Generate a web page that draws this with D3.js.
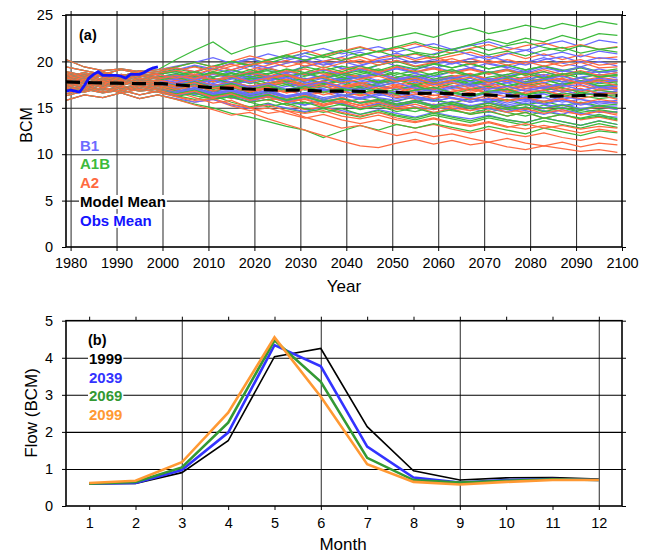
<!DOCTYPE html>
<html>
<head>
<meta charset="utf-8">
<script src="https://cdn.jsdelivr.net/npm/d3@7"></script>
<style>
  body { margin: 0; background: #fff; }
  text { font-family: Arial, "Liberation Sans", Helvetica, sans-serif; }
</style>
</head>
<body>
<svg id="chart" width="651" height="554"></svg>
<script>
// ---------- Panel (a): annual flow, ensemble members per scenario ----------
const histYears = [1979, 1983, 1987, 1991, 1995, 1999];
const futureYears = [2003, 2007, 2011, 2015, 2019, 2023, 2027, 2031, 2035, 2039, 2043, 2047, 2051,
                     2055, 2059, 2063, 2067, 2071, 2075, 2079, 2083, 2087, 2091, 2095, 2099];

// 20th-century runs, one per model (shared by all three scenarios)
const historical = [
  [17.9, 18.3, 17.6, 18.1, 17.8, 18.4],
  [17.2, 16.8, 17.5, 17.1, 17.6, 17.3],
  [18.6, 18.2, 18.8, 18.4, 19.0, 18.6],
  [16.5, 17.0, 16.6, 16.9, 16.4, 16.8],
  [18.0, 17.6, 18.2, 17.7, 18.1, 17.9],
  [17.5, 17.9, 17.3, 17.8, 17.4, 17.7],
  [20.2, 19.4, 19.0, 19.2, 18.9, 19.1],
  [15.8, 16.4, 16.1, 16.6, 16.0, 16.4],
  [17.7, 18.1, 17.9, 17.4, 17.9, 17.6],
  [18.3, 17.9, 18.5, 18.0, 18.4, 18.2],
  [17.0, 17.4, 16.9, 17.3, 17.1, 17.5],
  [18.8, 18.4, 18.1, 18.6, 18.3, 18.7],
  [16.8, 17.2, 17.6, 17.0, 17.4, 17.1],
  [17.4, 17.0, 17.7, 17.2, 16.9, 17.3],
  [18.2, 18.6, 18.0, 18.5, 18.1, 18.4],
  [17.6, 17.2, 17.8, 17.5, 17.9, 17.4],
  [18.5, 18.0, 18.6, 18.2, 18.7, 18.3],
  [16.9, 17.3, 16.7, 17.2, 16.8, 17.0],
  [17.8, 17.4, 18.0, 17.6, 18.2, 17.8],
  [19.4, 19.0, 18.6, 19.1, 18.7, 18.9],
  [16.3, 16.8, 17.1, 16.6, 17.0, 16.7],
  [18.1, 18.5, 17.8, 18.3, 17.7, 18.0],
  [17.3, 17.7, 17.2, 17.9, 17.5, 17.8],
  [18.9, 18.5, 18.9, 18.3, 18.6, 18.1],
  [17.1, 16.7, 17.2, 16.8, 17.3, 16.9],
  [18.4, 18.8, 18.3, 17.9, 18.5, 18.6]
];

const futureB1 = [
  [18.1, 18.6, 18.0, 17.7, 18.3, 17.9, 18.5, 17.8, 17.4, 18.0, 18.4, 17.6, 17.9, 18.3, 17.5, 17.8, 18.2, 17.4, 17.7, 18.1, 17.3, 17.6, 17.9, 17.2, 17.5],
  [17.0, 17.5, 16.8, 17.2, 16.6, 17.1, 16.9, 16.4, 16.9, 17.2, 16.5, 16.8, 16.3, 16.7, 17.0, 16.4, 16.1, 16.6, 16.9, 16.2, 16.5, 15.9, 16.3, 16.6, 16.0],
  [18.9, 18.4, 19.2, 18.8, 19.5, 19.0, 18.7, 19.4, 19.9, 19.3, 18.9, 19.6, 20.1, 19.5, 19.2, 19.8, 20.3, 19.7, 19.3, 19.9, 20.4, 19.8, 19.4, 20.0, 19.5],
  [16.4, 16.7, 16.0, 16.3, 15.8, 16.2, 15.6, 15.3, 15.9, 15.5, 15.0, 15.4, 15.7, 15.1, 14.8, 15.3, 14.9, 14.5, 15.0, 14.7, 14.3, 14.8, 14.4, 14.1, 14.0],
  [17.6, 18.1, 17.4, 17.8, 17.3, 17.7, 18.0, 17.5, 17.1, 17.6, 17.9, 17.3, 17.0, 17.5, 17.8, 17.2, 16.9, 17.4, 17.7, 17.1, 16.8, 17.3, 17.5, 16.9, 17.0],
  [17.4, 17.0, 17.5, 17.2, 16.8, 17.3, 16.9, 17.4, 17.0, 16.6, 17.1, 16.8, 16.4, 16.9, 17.2, 16.7, 16.3, 16.8, 16.5, 16.1, 16.6, 16.9, 16.4, 16.7, 16.5],
  [19.5, 19.9, 20.4, 19.8, 20.2, 20.8, 20.3, 20.9, 21.4, 20.8, 21.2, 21.6, 21.0, 21.5, 21.9, 21.3, 21.7, 22.1, 21.5, 21.2, 21.8, 22.2, 21.6, 22.3, 22.0],
  [16.0, 15.6, 15.9, 15.3, 14.9, 15.4, 15.0, 14.6, 15.1, 14.7, 14.3, 14.8, 14.4, 14.0, 14.5, 14.1, 13.8, 14.2, 13.7, 13.4, 13.9, 13.5, 13.1, 13.6, 13.2],
  [17.9, 17.5, 18.1, 17.8, 18.4, 17.9, 18.3, 18.7, 18.1, 17.8, 18.4, 18.8, 18.2, 17.9, 18.5, 18.1, 18.6, 18.0, 18.4, 18.8, 18.1, 17.8, 18.3, 18.6, 18.2],
  [18.5, 18.9, 18.3, 19.0, 18.6, 19.3, 18.8, 19.5, 19.9, 19.2, 19.6, 20.1, 19.5, 19.1, 19.7, 20.0, 19.3, 19.8, 19.4, 18.9, 19.5, 19.1, 18.7, 19.2, 18.8],
  [17.1, 17.4, 16.8, 17.0, 16.5, 16.9, 16.3, 16.6, 16.1, 16.4, 15.9, 16.3, 16.6, 16.0, 15.7, 16.1, 15.6, 15.9, 15.3, 15.7, 15.4, 15.0, 15.5, 15.1, 15.2],
  [19.1, 19.6, 19.2, 19.8, 20.3, 19.7, 20.1, 20.6, 20.0, 20.5, 21.0, 20.4, 20.9, 20.3, 20.8, 21.3, 20.7, 20.2, 20.8, 21.2, 20.6, 21.0, 20.5, 21.1, 20.8],
  [16.8, 17.2, 16.6, 16.9, 16.4, 16.8, 16.2, 16.6, 17.0, 16.4, 16.1, 16.5, 16.0, 16.4, 16.7, 16.1, 15.8, 16.3, 16.6, 16.0, 15.7, 16.2, 15.9, 15.6, 15.8],
  [16.9, 16.4, 16.8, 16.1, 15.7, 16.2, 15.8, 15.3, 15.8, 15.4, 15.0, 15.5, 15.1, 15.6, 15.2, 14.8, 15.3, 14.9, 14.6, 15.1, 14.7, 14.3, 14.9, 14.5, 14.6],
  [18.1, 18.5, 17.9, 18.3, 17.7, 18.2, 18.6, 18.0, 17.6, 18.1, 18.5, 17.9, 18.3, 17.7, 18.1, 18.4, 17.8, 17.5, 18.0, 18.3, 17.7, 18.1, 17.6, 18.0, 17.8],
  [17.7, 17.2, 17.6, 17.0, 17.4, 16.9, 17.3, 17.6, 17.0, 16.7, 17.2, 17.5, 16.9, 17.3, 16.8, 17.1, 17.4, 16.8, 16.5, 17.0, 17.3, 16.7, 17.0, 16.6, 16.8],
  [18.6, 18.2, 18.8, 18.4, 18.9, 18.5, 18.1, 18.7, 19.1, 18.6, 18.2, 18.8, 19.2, 18.7, 18.3, 18.9, 19.3, 18.8, 18.4, 18.9, 18.5, 19.0, 18.6, 18.9, 18.6],
  [16.7, 17.1, 16.5, 16.9, 16.4, 16.8, 16.2, 16.6, 16.9, 16.3, 16.0, 16.5, 16.8, 16.2, 15.9, 16.4, 16.0, 15.7, 16.2, 15.8, 16.1, 15.6, 15.9, 15.4, 15.6],
  [18.1, 17.6, 18.0, 17.5, 17.9, 18.3, 17.7, 17.4, 17.9, 18.2, 17.6, 17.3, 17.8, 18.1, 17.5, 17.9, 17.4, 17.8, 18.0, 17.4, 17.1, 17.6, 17.9, 17.2, 17.3],
  [19.3, 18.9, 19.5, 19.1, 19.7, 19.3, 19.8, 20.2, 19.6, 20.0, 19.5, 20.1, 20.4, 19.8, 20.2, 19.7, 20.3, 20.6, 20.0, 19.6, 20.2, 20.5, 19.9, 20.4, 20.2],
  [16.3, 16.7, 16.1, 16.5, 15.9, 16.3, 15.7, 16.1, 15.6, 16.0, 15.5, 15.9, 15.4, 15.8, 15.3, 15.7, 15.2, 15.6, 15.1, 15.5, 15.0, 15.4, 14.9, 15.2, 14.8],
  [17.7, 18.2, 17.6, 18.1, 18.5, 17.9, 18.3, 17.7, 18.2, 18.6, 18.0, 17.6, 18.1, 18.5, 17.9, 18.3, 17.8, 18.2, 17.7, 18.1, 18.4, 17.8, 18.2, 17.7, 18.0],
  [17.5, 17.9, 17.3, 17.7, 17.2, 17.6, 17.0, 17.4, 17.8, 17.2, 16.9, 17.4, 17.7, 17.1, 16.8, 17.3, 17.6, 17.0, 17.3, 16.8, 17.2, 17.5, 16.9, 17.2, 16.9],
  [18.4, 18.0, 18.6, 18.2, 18.8, 18.3, 18.9, 18.5, 19.1, 18.6, 19.2, 18.7, 19.3, 18.8, 19.4, 18.9, 19.3, 18.8, 19.2, 18.7, 19.3, 18.9, 19.4, 18.8, 19.0],
  [16.6, 17.0, 16.4, 16.8, 16.2, 16.6, 16.1, 16.5, 15.9, 16.3, 16.7, 16.1, 15.8, 16.2, 15.7, 16.1, 15.6, 16.0, 15.5, 15.9, 15.4, 15.8, 15.3, 15.7, 15.5],
  [18.2, 18.6, 18.0, 18.4, 17.9, 18.3, 18.7, 18.1, 18.5, 17.9, 18.3, 18.6, 18.0, 18.4, 17.8, 18.2, 18.5, 17.9, 18.3, 17.7, 18.1, 18.4, 17.8, 18.2, 17.9]
];

const futureA1B = [
  [18.0, 18.4, 17.8, 18.2, 17.6, 18.0, 17.5, 17.9, 18.3, 17.6, 17.2, 17.7, 18.1, 17.5, 17.1, 17.6, 17.9, 17.3, 16.9, 17.4, 17.7, 17.1, 16.8, 17.3, 17.0],
  [16.9, 16.5, 16.9, 16.3, 16.7, 16.1, 15.8, 16.3, 15.9, 15.5, 16.0, 15.6, 15.2, 15.7, 16.0, 15.4, 15.1, 15.6, 15.2, 14.8, 15.3, 15.0, 14.7, 15.2, 15.0],
  [19.0, 19.5, 19.1, 19.8, 20.3, 19.8, 20.4, 20.9, 20.4, 21.0, 21.5, 21.0, 21.6, 22.1, 21.5, 21.2, 21.8, 22.4, 21.9, 22.5, 22.1, 22.8, 22.3, 23.0, 22.8],
  [16.3, 15.9, 16.3, 15.6, 15.1, 15.5, 14.9, 14.5, 14.9, 14.4, 14.0, 14.5, 14.1, 13.7, 14.2, 13.8, 13.4, 13.9, 13.5, 13.1, 13.6, 13.2, 12.8, 13.3, 12.9],
  [18.2, 17.7, 18.3, 18.7, 18.1, 18.5, 17.9, 18.4, 18.8, 18.2, 18.6, 19.0, 18.4, 18.1, 18.7, 19.1, 18.5, 18.0, 18.6, 19.0, 18.3, 18.7, 18.2, 18.6, 18.4],
  [17.3, 17.7, 17.0, 17.4, 16.9, 17.3, 16.7, 17.1, 16.6, 17.0, 17.4, 16.8, 16.4, 16.9, 17.2, 16.6, 16.2, 16.7, 17.0, 16.4, 16.1, 16.6, 16.3, 16.0, 16.2],
  [20.2, 21.2, 22.1, 20.8, 21.5, 21.9, 22.2, 21.6, 22.0, 22.4, 22.8, 22.3, 22.7, 23.1, 22.6, 23.2, 23.6, 23.0, 23.4, 23.9, 23.5, 24.1, 23.7, 24.3, 24.0],
  [15.9, 15.4, 15.0, 14.4, 14.0, 13.5, 13.0, 12.6, 11.8, 12.5, 13.1, 12.6, 13.2, 12.8, 13.3, 12.9, 12.5, 13.0, 12.6, 12.2, 12.8, 12.4, 12.0, 12.5, 12.3],
  [17.2, 17.6, 17.0, 17.5, 17.9, 17.3, 17.7, 17.1, 17.5, 17.9, 17.2, 17.6, 18.0, 17.4, 17.8, 17.2, 17.6, 18.0, 17.3, 17.7, 17.1, 17.5, 17.9, 17.3, 17.6],
  [18.5, 18.1, 18.7, 19.1, 18.6, 19.2, 18.8, 19.4, 19.0, 19.5, 19.1, 19.6, 20.0, 19.4, 19.8, 19.3, 19.7, 19.2, 19.6, 19.1, 19.5, 18.9, 19.3, 18.8, 19.0],
  [17.0, 16.6, 16.9, 16.3, 16.0, 16.4, 15.8, 15.4, 15.8, 15.3, 15.0, 15.4, 14.9, 14.6, 15.1, 14.7, 14.4, 14.9, 14.5, 14.1, 14.6, 14.2, 13.9, 14.3, 13.8],
  [19.2, 18.8, 19.5, 20.0, 19.5, 20.1, 20.6, 20.1, 20.7, 21.2, 20.6, 21.1, 21.6, 21.0, 20.7, 21.3, 21.8, 21.2, 21.7, 22.1, 21.5, 21.1, 21.7, 21.3, 21.5],
  [16.7, 17.1, 16.5, 16.8, 16.3, 16.7, 16.1, 16.5, 15.9, 16.3, 16.6, 16.0, 15.7, 16.2, 15.8, 15.5, 16.0, 15.6, 15.9, 15.3, 15.7, 15.2, 15.6, 15.2, 15.4],
  [16.8, 16.3, 15.9, 16.2, 15.6, 15.1, 15.5, 14.9, 14.5, 14.9, 14.3, 14.7, 14.2, 13.9, 14.4, 14.0, 13.6, 14.1, 13.7, 13.4, 13.9, 13.5, 13.1, 13.6, 13.2],
  [18.0, 18.4, 17.8, 18.3, 18.7, 18.1, 18.5, 17.9, 18.4, 18.8, 18.2, 17.8, 18.3, 18.7, 18.1, 18.5, 17.9, 18.3, 18.6, 18.0, 18.4, 17.8, 18.2, 17.9, 18.0],
  [17.0, 17.4, 16.8, 17.2, 16.7, 17.1, 17.5, 16.9, 17.3, 16.8, 17.2, 16.6, 17.0, 17.4, 16.8, 16.5, 17.0, 17.3, 16.7, 16.4, 16.9, 17.2, 16.6, 16.9, 16.6],
  [18.7, 18.3, 18.9, 18.5, 19.1, 18.6, 19.2, 18.8, 19.4, 18.9, 19.5, 19.0, 19.6, 19.2, 19.7, 19.3, 19.8, 19.2, 19.6, 19.1, 19.5, 19.0, 19.4, 18.9, 19.2],
  [16.6, 16.9, 16.3, 16.6, 16.1, 16.4, 15.9, 16.2, 15.7, 16.0, 15.5, 15.8, 15.3, 15.6, 15.1, 15.4, 14.9, 15.3, 14.8, 15.1, 14.6, 15.0, 14.5, 14.8, 14.5],
  [17.4, 17.9, 17.3, 17.8, 18.2, 17.6, 18.0, 17.5, 17.9, 18.3, 17.7, 17.3, 17.8, 18.2, 17.6, 18.0, 17.5, 17.9, 18.2, 17.6, 18.0, 17.5, 17.9, 17.6, 17.8],
  [19.4, 19.9, 19.4, 20.0, 19.6, 20.2, 20.7, 20.1, 20.6, 20.1, 20.7, 21.1, 20.5, 20.9, 20.4, 20.9, 21.3, 20.7, 21.1, 20.6, 21.2, 21.5, 20.9, 21.3, 21.0],
  [16.2, 16.6, 15.9, 16.2, 15.6, 15.9, 15.3, 15.6, 15.0, 15.4, 14.8, 15.2, 14.6, 15.0, 14.4, 14.8, 14.3, 14.6, 14.1, 14.5, 13.9, 14.3, 13.8, 14.1, 13.7],
  [18.3, 17.8, 18.2, 17.6, 18.1, 18.4, 17.8, 18.2, 17.6, 18.0, 18.3, 17.7, 18.1, 17.5, 17.9, 18.2, 17.6, 18.0, 17.4, 17.8, 18.1, 17.5, 17.9, 17.4, 17.5],
  [17.4, 17.8, 17.2, 17.6, 17.0, 17.4, 16.9, 17.3, 16.7, 17.1, 16.6, 17.0, 16.5, 16.9, 17.2, 16.6, 16.3, 16.8, 17.0, 16.4, 16.7, 16.2, 16.6, 16.3, 16.4],
  [18.5, 18.9, 18.3, 18.8, 18.3, 18.7, 19.1, 18.5, 18.9, 18.4, 18.8, 19.2, 18.6, 19.0, 18.5, 18.9, 18.4, 18.8, 19.1, 18.5, 18.9, 18.3, 18.7, 18.4, 18.6],
  [16.5, 16.9, 16.3, 16.6, 16.0, 16.4, 15.8, 16.2, 15.6, 16.0, 15.5, 15.9, 15.4, 15.8, 15.2, 15.6, 15.1, 15.5, 15.0, 15.4, 14.9, 15.3, 14.8, 15.2, 14.9],
  [18.9, 18.4, 18.8, 18.3, 18.7, 19.0, 18.4, 18.8, 18.2, 18.6, 19.0, 18.4, 18.8, 18.3, 18.7, 19.1, 18.5, 18.9, 18.3, 18.7, 18.2, 18.6, 18.9, 18.3, 18.5]
];

const futureA2 = [
  [18.0, 17.6, 18.1, 17.5, 17.9, 17.3, 17.7, 17.2, 17.6, 17.0, 17.4, 16.9, 17.3, 16.8, 17.2, 16.7, 17.1, 16.6, 17.0, 16.5, 16.9, 16.4, 16.8, 16.3, 16.4],
  [16.8, 17.1, 16.5, 16.0, 16.4, 15.8, 16.2, 15.6, 15.2, 15.7, 15.3, 15.8, 15.2, 14.9, 15.4, 15.0, 14.7, 15.2, 14.8, 14.5, 15.0, 14.6, 14.3, 14.7, 14.4],
  [19.0, 19.4, 18.9, 19.5, 19.9, 19.3, 19.8, 20.2, 19.6, 20.1, 20.5, 19.9, 20.4, 20.8, 20.2, 20.6, 21.0, 20.4, 20.9, 20.3, 20.8, 20.2, 20.7, 20.3, 20.5],
  [16.2, 15.6, 15.9, 15.2, 14.7, 15.0, 14.4, 13.9, 14.3, 13.7, 13.3, 13.7, 13.2, 12.8, 13.2, 12.7, 12.3, 12.7, 12.2, 11.9, 12.3, 11.8, 11.5, 11.9, 11.5],
  [17.5, 17.9, 17.3, 17.7, 17.2, 17.6, 18.0, 17.4, 17.8, 17.2, 17.6, 18.0, 17.4, 17.0, 17.5, 17.9, 17.3, 17.7, 17.1, 17.5, 17.0, 17.4, 17.7, 17.1, 17.2],
  [17.3, 16.9, 17.3, 16.7, 17.1, 16.5, 16.9, 16.3, 16.7, 16.1, 16.6, 16.9, 16.3, 15.9, 16.4, 16.0, 15.6, 16.1, 15.7, 16.0, 15.5, 15.9, 15.4, 15.7, 15.5],
  [19.4, 19.9, 19.4, 20.0, 20.6, 20.1, 20.7, 21.2, 20.6, 21.1, 21.6, 21.0, 21.4, 21.9, 21.3, 20.9, 21.4, 21.8, 21.2, 21.7, 22.0, 21.4, 21.8, 21.3, 21.6],
  [15.9, 15.3, 14.8, 14.2, 14.5, 13.8, 13.2, 12.6, 12.0, 11.4, 10.9, 10.7, 11.2, 11.6, 11.1, 11.5, 11.0, 11.3, 10.8, 10.5, 10.9, 10.6, 10.3, 10.5, 10.2],
  [17.2, 17.7, 17.1, 17.5, 16.9, 17.4, 17.8, 17.2, 16.8, 17.3, 17.7, 17.1, 16.7, 17.2, 17.6, 17.0, 16.6, 17.1, 17.4, 16.8, 17.2, 16.7, 17.0, 16.6, 16.8],
  [18.6, 18.2, 18.8, 18.3, 18.9, 19.3, 18.7, 19.2, 18.6, 19.1, 19.5, 18.9, 19.4, 18.8, 19.2, 18.7, 19.1, 18.6, 19.0, 18.5, 18.9, 18.4, 18.8, 18.3, 18.5],
  [17.0, 16.5, 16.8, 16.1, 15.6, 15.9, 15.3, 14.8, 15.1, 14.5, 14.1, 14.5, 13.9, 13.5, 13.9, 13.4, 13.1, 13.5, 13.0, 12.7, 13.1, 12.7, 12.3, 12.7, 12.4],
  [19.0, 18.6, 19.2, 19.7, 19.1, 19.6, 20.1, 19.5, 20.0, 20.4, 19.8, 20.3, 20.7, 20.1, 20.5, 19.9, 20.3, 19.8, 20.2, 19.7, 20.0, 19.5, 19.9, 19.3, 19.4],
  [16.7, 17.0, 16.4, 16.7, 16.1, 16.5, 15.9, 16.3, 15.7, 16.1, 15.6, 15.9, 15.4, 15.8, 15.3, 15.6, 15.1, 15.5, 15.0, 15.4, 14.9, 15.3, 14.8, 15.1, 14.8],
  [16.7, 16.1, 15.5, 15.8, 15.0, 14.4, 14.7, 14.0, 13.4, 12.8, 13.1, 12.5, 12.0, 12.4, 11.9, 12.2, 11.7, 11.3, 11.7, 11.2, 10.9, 11.3, 10.8, 11.2, 11.0],
  [18.0, 18.5, 17.9, 18.4, 18.8, 18.2, 18.6, 18.0, 18.5, 18.9, 18.3, 18.7, 18.1, 18.5, 17.9, 18.4, 18.7, 18.1, 17.8, 18.3, 18.6, 18.0, 17.7, 18.1, 17.8],
  [17.0, 17.4, 16.8, 17.3, 16.7, 17.1, 16.6, 17.0, 17.4, 16.8, 16.4, 16.9, 17.2, 16.6, 16.3, 16.8, 17.1, 16.5, 16.2, 16.7, 16.9, 16.3, 16.0, 16.4, 15.9],
  [17.9, 18.4, 17.8, 18.3, 18.7, 18.1, 18.5, 17.9, 18.4, 18.8, 18.2, 18.6, 18.0, 18.4, 17.8, 18.3, 18.6, 18.0, 18.4, 17.8, 18.2, 18.5, 17.9, 18.3, 18.0],
  [16.5, 16.8, 16.2, 16.5, 15.9, 16.2, 15.6, 15.9, 15.3, 15.6, 15.0, 15.3, 14.8, 15.1, 14.5, 14.9, 14.3, 14.7, 14.1, 14.5, 13.9, 14.3, 13.7, 14.0, 13.6],
  [17.4, 17.8, 17.2, 17.6, 17.0, 17.5, 17.9, 17.3, 17.7, 17.1, 17.5, 16.9, 17.3, 17.6, 17.0, 17.4, 16.8, 17.2, 16.7, 17.1, 17.4, 16.8, 17.1, 16.5, 16.6],
  [19.3, 18.9, 19.5, 19.1, 19.6, 20.0, 19.4, 19.9, 19.3, 19.8, 20.2, 19.6, 20.1, 19.5, 19.9, 20.3, 19.7, 20.1, 19.6, 20.0, 19.5, 19.9, 20.2, 19.6, 19.8],
  [16.2, 15.8, 16.0, 15.4, 15.0, 15.3, 14.7, 14.4, 14.7, 14.1, 13.8, 14.2, 13.7, 13.4, 13.8, 13.3, 13.0, 13.4, 12.9, 13.3, 12.8, 13.1, 12.7, 13.0, 12.8],
  [17.6, 18.0, 17.4, 17.8, 17.3, 17.7, 18.1, 17.5, 17.9, 17.3, 17.7, 17.1, 17.5, 17.9, 17.3, 17.7, 17.1, 17.5, 16.9, 17.3, 17.6, 17.0, 17.4, 16.9, 17.1],
  [17.3, 17.7, 17.1, 17.4, 16.8, 17.2, 16.6, 17.0, 16.4, 16.8, 16.3, 16.7, 16.1, 16.5, 16.0, 16.4, 15.9, 16.3, 15.8, 16.1, 15.7, 16.0, 15.5, 15.9, 15.6],
  [18.5, 18.1, 18.7, 18.3, 18.9, 18.4, 19.0, 18.6, 19.2, 18.7, 19.3, 18.8, 19.4, 18.9, 19.3, 18.8, 19.2, 18.7, 19.1, 18.6, 19.1, 18.6, 19.0, 18.5, 18.8],
  [16.4, 16.8, 16.1, 16.5, 15.8, 16.2, 15.6, 16.0, 15.4, 15.8, 15.2, 15.6, 15.0, 15.4, 14.8, 15.2, 14.7, 15.1, 14.5, 14.9, 14.4, 14.8, 14.2, 14.6, 14.2],
  [18.2, 18.6, 18.0, 18.4, 17.8, 18.2, 18.6, 18.0, 18.3, 17.7, 18.1, 18.4, 17.8, 18.2, 17.6, 18.0, 18.3, 17.7, 18.1, 17.5, 17.9, 18.2, 17.6, 17.9, 17.4]
];

const meanYears = [1979, 1985, 1990, 1995, 2000, 2005, 2010, 2015, 2020, 2025, 2030, 2035, 2040,
                   2045, 2050, 2055, 2060, 2065, 2070, 2075, 2080, 2085, 2090, 2095, 2099];
const modelMean = [17.8, 17.7, 17.65, 17.6, 17.6, 17.4, 17.2, 17.1, 17.0, 16.9, 16.9, 16.8, 16.8,
                   16.75, 16.7, 16.55, 16.6, 16.45, 16.4, 16.3, 16.2, 16.25, 16.3, 16.4, 16.3];

const obsYears = [1979, 1980, 1981, 1982, 1983, 1984, 1985, 1986, 1987, 1988, 1989, 1990, 1991,
                  1992, 1993, 1994, 1995, 1996, 1997, 1998, 1999];
const obsMean = [16.8, 16.9, 16.8, 16.7, 17.4, 18.2, 18.6, 18.9, 18.5, 18.5, 18.5, 18.5, 18.4,
                 18.2, 18.6, 18.6, 18.6, 18.8, 19.1, 19.3, 19.4];

const yearTicks = [1980, 1990, 2000, 2010, 2020, 2030, 2040, 2050, 2060, 2070, 2080, 2090, 2100];
const bcmTicks = [0, 5, 10, 15, 20, 25];

const scenarioColors = { B1: "#6b6bff", A1B: "#3cba3c", A2: "#ff6a40" };

// ---------- Panel (b): monthly hydrographs ----------
const months = [1, 2, 3, 4, 5, 6, 7, 8, 9, 10, 11, 12];
const flow1999 = [0.60, 0.61, 0.90, 1.76, 4.03, 4.25, 2.14, 0.95, 0.70, 0.76, 0.77, 0.73];
const flow2039 = [0.60, 0.62, 0.97, 1.98, 4.34, 3.77, 1.60, 0.77, 0.63, 0.70, 0.73, 0.70];
const flow2069 = [0.60, 0.65, 1.04, 2.25, 4.47, 3.35, 1.30, 0.70, 0.63, 0.68, 0.72, 0.70];
const flow2099 = [0.62, 0.68, 1.18, 2.52, 4.55, 2.95, 1.13, 0.65, 0.58, 0.65, 0.70, 0.70];
const flowTicks = [0, 1, 2, 3, 4, 5];

const svg = d3.select("#chart");
const tickFont = 14.5;

function styleTicks(g, size) {
  g.selectAll("text").attr("font-size", size).attr("fill", "#000")
    .attr("font-family", "Arial, 'Liberation Sans', Helvetica, sans-serif");
  g.selectAll("line").attr("stroke", "#000");
  g.select(".domain").remove();
}

// legend entry with a white backing rectangle so grid lines pass behind it
function legendText(g, x, y, str, color, size) {
  const t = g.append("text").attr("x", x).attr("y", y).attr("font-size", size)
    .attr("font-weight", "bold").attr("fill", color).text(str);
  const b = t.node().getBBox();
  g.insert("rect", "text").attr("x", b.x - 1).attr("y", b.y + 2).attr("width", b.width + 2)
    .attr("height", b.height - 3).attr("fill", "#fff");
  t.raise();
}

// ================= Panel (a) =================
{
  const x = d3.scaleLinear().domain([1979, 2100]).range([66, 622]);
  const y = d3.scaleLinear().domain([0, 25]).range([247, 15]);
  const g = svg.append("g");
  const [top, bottom] = [y(25), y(0)];
  const [left, right] = [x(1979), x(2100)];

  // grid
  g.append("g").attr("transform", `translate(0,${bottom})`)
    .call(d3.axisBottom(x).tickValues(yearTicks.filter(v => v < 2100)).tickSize(-(bottom - top)).tickFormat(""))
    .call(s => s.select(".domain").remove())
    .selectAll("line").attr("stroke", "#3a3a3a").attr("stroke-width", 1.1);
  g.append("g").attr("transform", `translate(${left},0)`)
    .call(d3.axisLeft(y).tickValues(bcmTicks.filter(v => v > 0 && v < 25)).tickSize(-(right - left)).tickFormat(""))
    .call(s => s.select(".domain").remove())
    .selectAll("line").attr("stroke", "#2a2a2a").attr("stroke-width", 1.1);

  // ensemble members, interleaved by model so every scenario shows through
  const line = d3.line().x(d => x(d[0])).y(d => y(d[1]));
  const runs = [];
  historical.forEach((h, i) => {
    [["B1", futureB1], ["A1B", futureA1B], ["A2", futureA2]].forEach(([name, fut]) => {
      const pts = histYears.map((yr, k) => [yr, h[k]])
        .concat(futureYears.map((yr, k) => [yr, fut[i][k]]));
      runs.push({ name, pts });
    });
  });
  g.append("g").selectAll("path").data(runs).join("path")
    .attr("d", d => line(d.pts)).attr("fill", "none")
    .attr("stroke", d => scenarioColors[d.name]).attr("stroke-width", 1.25);

  // model mean (dashed) and observed mean
  g.append("path").attr("d", line(meanYears.map((yr, k) => [yr, modelMean[k]])))
    .attr("fill", "none").attr("stroke", "#000").attr("stroke-width", 3.2)
    .attr("stroke-dasharray", "14,8");
  g.append("path").attr("d", line(obsYears.map((yr, k) => [yr, obsMean[k]])))
    .attr("fill", "none").attr("stroke", "#1414ff").attr("stroke-width", 2.8)
    .attr("stroke-linejoin", "round");

  // legend
  const lg = g.append("g");
  legendText(lg, 79, 40, "(a)", "#000", 14.5);
  legendText(lg, 80, 150.5, "B1", scenarioColors.B1, 15);
  legendText(lg, 80, 169.3, "A1B", scenarioColors.A1B, 15);
  legendText(lg, 80, 188.2, "A2", scenarioColors.A2, 15);
  legendText(lg, 80, 207, "Model Mean", "#000", 15);
  legendText(lg, 80, 225.8, "Obs Mean", "#1414ff", 15);

  // frame and axes
  g.append("rect").attr("x", left).attr("y", top).attr("width", right - left).attr("height", bottom - top)
    .attr("fill", "none").attr("stroke", "#000").attr("stroke-width", 1.6);
  g.append("g").attr("transform", `translate(0,${bottom})`)
    .call(d3.axisBottom(x).tickValues(yearTicks).tickSize(4).tickPadding(7).tickFormat(d3.format("d")))
    .call(s => styleTicks(s, tickFont));
  g.append("g").attr("transform", `translate(0,${top})`)
    .call(d3.axisTop(x).tickValues(yearTicks).tickSize(4).tickFormat(""))
    .call(s => styleTicks(s, tickFont));
  g.append("g").attr("transform", `translate(${left},0)`)
    .call(d3.axisLeft(y).tickValues(bcmTicks).tickSize(4).tickPadding(9).tickFormat(d3.format("d")))
    .call(s => styleTicks(s, tickFont));
  g.append("g").attr("transform", `translate(${right},0)`)
    .call(d3.axisRight(y).tickValues(bcmTicks).tickSize(4).tickFormat(""))
    .call(s => styleTicks(s, tickFont));

  g.append("text").attr("x", 344).attr("y", 292).attr("text-anchor", "middle")
    .attr("font-size", 17).text("Year");
  g.append("text").attr("transform", "translate(31.5,125) rotate(-90)").attr("text-anchor", "middle")
    .attr("font-size", 16).text("BCM");
}

// ================= Panel (b) =================
{
  const x = d3.scaleLinear().domain([0.5, 12.5]).range([66, 622]);
  const y = d3.scaleLinear().domain([0, 5]).range([506, 320.7]);
  const g = svg.append("g");
  const [top, bottom] = [y(5), y(0)];
  const [left, right] = [x(0.5), x(12.5)];

  g.append("g").attr("transform", `translate(0,${bottom})`)
    .call(d3.axisBottom(x).tickValues([3, 6, 9, 12]).tickSize(-(bottom - top)).tickFormat(""))
    .call(s => s.select(".domain").remove())
    .selectAll("line").attr("stroke", "#5a5a5a").attr("stroke-width", 1.3);
  g.append("g").attr("transform", `translate(${left},0)`)
    .call(d3.axisLeft(y).tickValues([1, 2, 3, 4]).tickSize(-(right - left)).tickFormat(""))
    .call(s => s.select(".domain").remove())
    .selectAll("line").attr("stroke", "#000").attr("stroke-width", 1.1);

  const line = d3.line().x((d, i) => x(months[i])).y(d => y(d));
  const curves = [
    { vals: flow1999, color: "#000000", w: 1.6 },
    { vals: flow2039, color: "#3333ff", w: 2.6 },
    { vals: flow2069, color: "#339933", w: 2.6 },
    { vals: flow2099, color: "#ff9933", w: 2.6 }
  ];
  g.append("g").selectAll("path").data(curves).join("path")
    .attr("d", d => line(d.vals)).attr("fill", "none")
    .attr("stroke", d => d.color).attr("stroke-width", d => d.w);

  const lg = g.append("g");
  legendText(lg, 88, 345, "(b)", "#000", 14.5);
  legendText(lg, 89, 364, "1999", "#000", 15);
  legendText(lg, 89, 382.5, "2039", "#3333ff", 15);
  legendText(lg, 89, 401, "2069", "#339933", 15);
  legendText(lg, 89, 420, "2099", "#ff9933", 15);

  g.append("rect").attr("x", left).attr("y", top).attr("width", right - left).attr("height", bottom - top)
    .attr("fill", "none").attr("stroke", "#000").attr("stroke-width", 1.6);
  g.append("g").attr("transform", `translate(0,${bottom})`)
    .call(d3.axisBottom(x).tickValues(months).tickSize(4).tickPadding(8).tickFormat(d3.format("d")))
    .call(s => styleTicks(s, tickFont));
  g.append("g").attr("transform", `translate(0,${top})`)
    .call(d3.axisTop(x).tickValues(months).tickSize(4).tickFormat(""))
    .call(s => styleTicks(s, tickFont));
  g.append("g").attr("transform", `translate(${left},0)`)
    .call(d3.axisLeft(y).tickValues(flowTicks).tickSize(4).tickPadding(9).tickFormat(d3.format("d")))
    .call(s => styleTicks(s, tickFont));
  g.append("g").attr("transform", `translate(${right},0)`)
    .call(d3.axisRight(y).tickValues(flowTicks).tickSize(4).tickFormat(""))
    .call(s => styleTicks(s, tickFont));

  g.append("text").attr("x", 343).attr("y", 550).attr("text-anchor", "middle")
    .attr("font-size", 17).text("Month");
  g.append("text").attr("transform", "translate(36.5,413) rotate(-90)").attr("text-anchor", "middle")
    .attr("font-size", 17).text("Flow (BCM)");
}
</script>
</body>
</html>
